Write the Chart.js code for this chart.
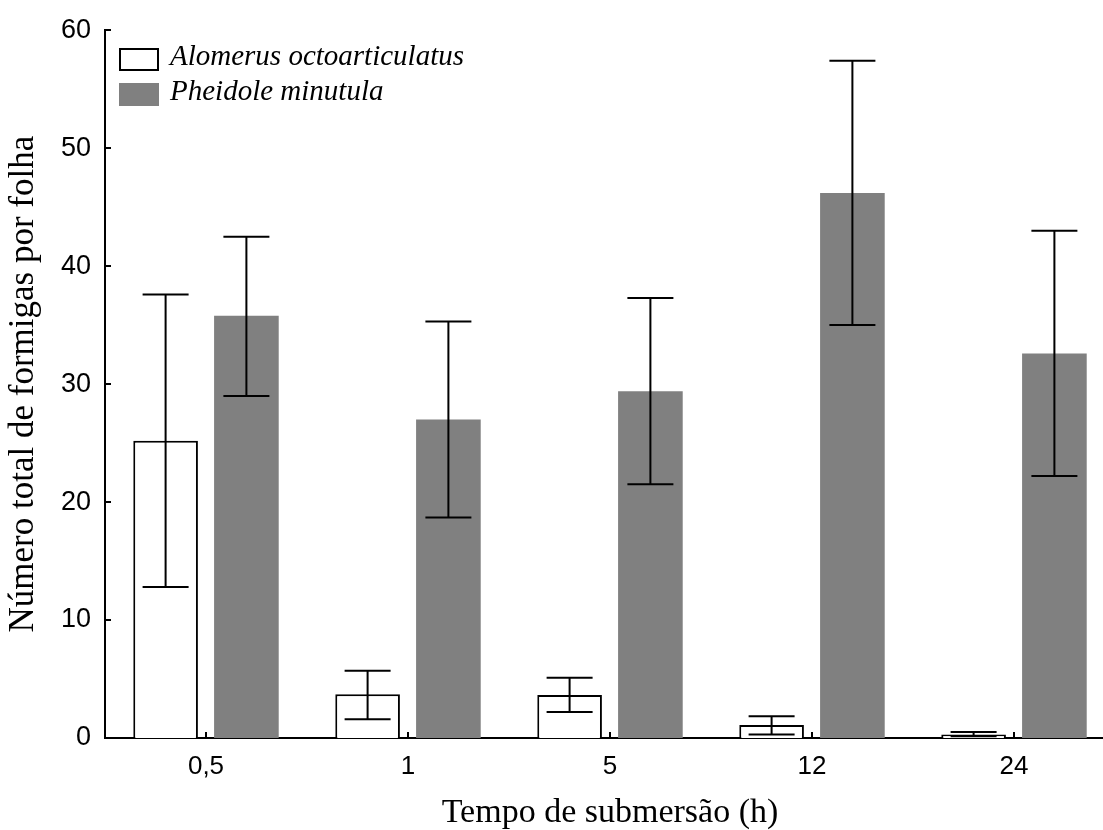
<!DOCTYPE html>
<html>
<head>
<meta charset="utf-8">
<script src="https://cdn.jsdelivr.net/npm/chart.js@4/dist/chart.umd.min.js"></script>
<style>
    html, body { margin: 0; padding: 0; background: #fff; overflow: hidden; }
    #wrap { width: 1103px; height: 830px; overflow: hidden; position: relative; }
    #chart { display: block; }
</style>
</head>
<body>
<div id="wrap">
    <canvas id="chart" width="1120" height="830"></canvas>
</div>
<script>
// DATA

const categories = ["0,5", "1", "5", "12", "24"];

const alomerus = [25.2, 3.7, 3.65, 1.1, 0.3];
const alomerusLow = [12.8, 1.6, 2.2, 0.3, 0.15];
const alomerusHigh = [37.6, 5.7, 5.1, 1.85, 0.5];

const pheidole = [35.8, 27.0, 29.4, 46.2, 32.6];
const pheidoleLow = [29.0, 18.7, 21.5, 35.0, 22.2];
const pheidoleHigh = [42.5, 35.3, 37.3, 57.4, 43.0];

const yTicks = [0, 10, 20, 30, 40, 50, 60];

const SANS = "'Liberation Sans', Arial, sans-serif";
const SERIF = "'Liberation Serif', 'Times New Roman', serif";

// ERROR BARS

const errorBars = {
    id: "errorBars",
    afterDatasetsDraw(chart) {
        const ctx = chart.ctx;
        const y = chart.scales.y;
        ctx.save();
        ctx.strokeStyle = "#000";
        ctx.lineWidth = 2;
        chart.data.datasets.forEach((ds, di) => {
            const meta = chart.getDatasetMeta(di);
            meta.data.forEach((bar, i) => {
                const top = y.getPixelForValue(ds.errHigh[i]);
                const bottom = y.getPixelForValue(ds.errLow[i]);
                const half = 23;
                ctx.beginPath();
                ctx.moveTo(bar.x, top);
                ctx.lineTo(bar.x, bottom);
                ctx.moveTo(bar.x - half, top);
                ctx.lineTo(bar.x + half, top);
                ctx.moveTo(bar.x - half, bottom);
                ctx.lineTo(bar.x + half, bottom);
                ctx.stroke();
            });
        });
        ctx.restore();
    }
};

// INWARD TICKS

const inwardTicks = {
    id: "inwardTicks",
    afterDraw(chart) {
        const ctx = chart.ctx;
        const x = chart.scales.x;
        const y = chart.scales.y;
        const area = chart.chartArea;
        ctx.save();
        ctx.strokeStyle = "#000";
        ctx.lineWidth = 2;
        ctx.beginPath();
        yTicks.forEach(v => {
            const py = Math.round(y.getPixelForValue(v));
            ctx.moveTo(area.left, py);
            ctx.lineTo(area.left + 6, py);
        });
        categories.forEach((c, i) => {
            const px = Math.round(x.getPixelForValue(i));
            ctx.moveTo(px, area.bottom);
            ctx.lineTo(px, area.bottom - 6);
        });
        ctx.stroke();
        ctx.restore();
    }
};

// LEGEND

const boxLegend = {
    id: "boxLegend",
    afterDraw(chart) {
        const ctx = chart.ctx;
        const left = chart.chartArea.left + 14;
        const rows = [48, 83];
        ctx.save();
        chart.data.datasets.forEach((ds, i) => {
            const top = rows[i];
            ctx.fillStyle = ds.backgroundColor;
            ctx.fillRect(left, top, 40, 23);
            if (ds.borderWidth) {
                ctx.strokeStyle = ds.borderColor;
                ctx.lineWidth = 2;
                ctx.strokeRect(left + 1, top + 1, 38, 21);
            }
            ctx.fillStyle = "#000";
            ctx.font = "italic 29px " + SERIF;
            ctx.textBaseline = "middle";
            ctx.textAlign = "left";
            ctx.fillText(ds.label, left + 51, top + 9);
        });
        ctx.restore();
    }
};

// CHART

new Chart(document.getElementById("chart"), {
    type: "bar",
    data: {
        labels: categories,
        datasets: [
            {
                label: "Alomerus octoarticulatus",
                data: alomerus,
                errLow: alomerusLow,
                errHigh: alomerusHigh,
                backgroundColor: "#ffffff",
                borderColor: "#000000",
                borderWidth: 2,
                borderSkipped: "bottom"
            },
            {
                label: "Pheidole minutula",
                data: pheidole,
                errLow: pheidoleLow,
                errHigh: pheidoleHigh,
                backgroundColor: "#808080",
                borderWidth: 0
            }
        ]
    },
    options: {
        responsive: false,
        devicePixelRatio: 1,
        animation: false,
        categoryPercentage: 0.8,
        barPercentage: 0.8,
        layout: { padding: { left: 0, right: 5, top: 28, bottom: 0 } },
        plugins: {
            legend: { display: false },
            tooltip: { enabled: false }
        },
        scales: {
            x: {
                grid: { display: false, drawTicks: false },
                border: { display: true, color: "#000", width: 2 },
                ticks: {
                    color: "#000",
                    padding: 13,
                    font: { family: SANS, size: 26 }
                },
                title: {
                    display: true,
                    text: "Tempo de submersão (h)",
                    color: "#000",
                    padding: 0,
                    font: { family: SERIF, size: 34, lineHeight: 1 }
                },
                afterFit(scale) { scale.height = 92; }
            },
            y: {
                min: 0,
                max: 60,
                grid: { display: false, drawTicks: false },
                border: { display: true, color: "#000", width: 2 },
                ticks: {
                    stepSize: 10,
                    color: "#000",
                    padding: 14,
                    font: { family: SANS, size: 27 }
                },
                title: {
                    display: true,
                    text: "Número total de formigas por folha",
                    color: "#000",
                    padding: { top: 6, bottom: 0 },
                    font: { family: SERIF, size: 35, lineHeight: 1 }
                },
                afterFit(scale) { scale.width = 105; }
            }
        }
    },
    plugins: [errorBars, inwardTicks, boxLegend]
});
</script>
</body>
</html>
